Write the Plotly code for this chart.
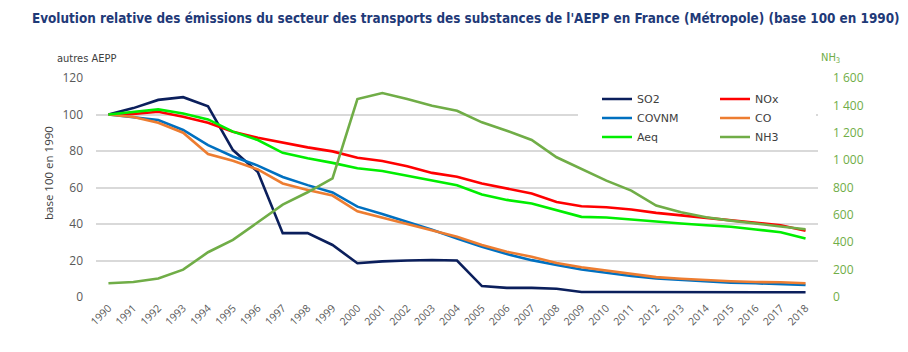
import plotly.graph_objects as go

years = [str(y) for y in range(1990, 2019)]

so2 = [100, 103.5, 108, 109.5, 104.5, 80.5, 68.5, 35, 35, 28.5, 18.5, 19.5,
       20, 20.3, 20, 6, 5, 5, 4.5, 2.7, 2.7, 2.7, 2.7, 2.7, 2.7, 2.7, 2.7, 2.7, 2.6]
nox = [100, 100.3, 101.5, 98.8, 95.5, 90.5, 87.3, 84.5, 82, 79.8, 76.3, 74.5,
       71.7, 68, 65.9, 62.2, 59.4, 56.7, 52.1, 49.7, 49.2, 47.9, 46.1, 44.8, 43.3, 42, 40.6, 39.3, 36.3]
covnm = [100, 98.4, 97, 91.5, 83.2, 77, 72, 65.8, 61.3, 57.3, 49.5, 45.5,
         41.2, 36.8, 32.1, 27.5, 23.5, 20.2, 17.5, 15.1, 13.3, 11.5, 10.2, 9.3, 8.4, 7.9, 7.5, 7.1, 6.6]
co = [100, 98.6, 95.5, 90, 78.3, 74.6, 69.9, 62.2, 58.6, 55.6, 47, 43.5,
      40, 36.3, 33, 28.5, 24.8, 22.1, 18.6, 16.3, 14.5, 12.7, 10.9, 10, 9.1, 8.6, 8.2, 8.1, 7.5]
aeq = [100, 101.3, 102.8, 100.6, 97.3, 90.6, 86, 79, 76, 73.5, 70.5, 69,
       66.3, 63.6, 61.2, 56.2, 53.2, 51.2, 47.7, 43.9, 43.6, 42.4, 41.2, 40.3, 39.3, 38.5, 37, 35.5, 32]
nh3 = [100, 110, 135, 200, 327, 417, 546, 675, 765, 867, 1446, 1490,
       1446, 1398, 1361, 1276, 1215, 1147, 1021, 935, 850, 777, 668, 619, 583, 558, 534, 515, 495]

left_ticks = [0, 20, 40, 60, 80, 100, 120]
right_ticks = [0, 200, 400, 600, 800, 1000, 1200, 1400, 1600]
right_labels = ["0", "200", "400", "600", "800", "1 000", "1 200", "1 400", "1 600"]

series = [
    ("SO2", so2, "#0B1F5C", "legend", "y"),
    ("NOx", nox, "#FF0000", "legend2", "y"),
    ("COVNM", covnm, "#0070C0", "legend", "y"),
    ("CO", co, "#ED7D31", "legend2", "y"),
    ("Aeq", aeq, "#00EE00", "legend", "y"),
    ("NH3", nh3, "#70AD47", "legend2", "y2"),
]

fig = go.Figure()
for name, vals, color, leg, ax in series:
    fig.add_trace(go.Scatter(x=years, y=vals, name=name, mode="lines",
                             line=dict(color=color, width=2.6),
                             legend=leg, yaxis=ax))

L, R, T, B = 96, 90, 78, 55
W, H = 908, 352
pw, ph = W - L - R, H - T - B

def px(xp):
    return (xp - L) / pw

def py(yp):
    return (H - B - yp) / ph

tick_font = dict(family="Open Sans, Liberation Sans, sans-serif", size=12, color="#595959")
leg_font = dict(family="DejaVu Sans, Verdana, sans-serif", size=11, color="#404040")

fig.update_layout(
    width=W, height=H,
    margin=dict(l=L, r=R, t=T, b=B),
    paper_bgcolor="white", plot_bgcolor="white",
    showlegend=True,
    xaxis=dict(type="category", range=[-0.5, 28.5], tickangle=-45,
               tickfont=dict(family="Open Sans, Liberation Sans, sans-serif", size=10.5, color="#595959"),
               showgrid=False, showline=False, ticks="", zeroline=False, ticklabelstandoff=2),
    yaxis=dict(range=[0, 120], tickvals=left_ticks, showgrid=True, gridcolor="#D9D9D9",
               gridwidth=1.5, zeroline=False, ticks="", tickfont=tick_font,
               ticklabelstandoff=12),
    yaxis2=dict(range=[0, 1600], overlaying="y", side="right", tickvals=right_ticks,
                ticktext=right_labels, showgrid=False, zeroline=False, ticks="",
                tickfont=dict(family="Open Sans, Liberation Sans, sans-serif", size=12, color="#70AD47"),
                ticklabelstandoff=14),
    legend=dict(x=px(597), y=py(84.5), xanchor="left", yanchor="top", bgcolor="rgba(0,0,0,0)",
                font=leg_font, tracegroupgap=0, itemwidth=30),
    legend2=dict(x=px(715), y=py(84.5), xanchor="left", yanchor="top", bgcolor="rgba(0,0,0,0)",
                 font=leg_font, tracegroupgap=0, itemwidth=30),
    shapes=[dict(type="rect", xref="paper", yref="paper", x0=px(578), x1=px(816),
                 y0=py(148), y1=py(81), fillcolor="white", line=dict(width=0), layer="above")],
    annotations=[
        dict(text="<b>Evolution relative des émissions du secteur des transports des substances de l'AEPP en France (Métropole) (base 100 en 1990)</b>",
             xref="paper", yref="paper", x=px(466), y=py(18), xanchor="center", yanchor="middle",
             showarrow=False, font=dict(family="DejaVu Sans Condensed, DejaVu Sans, sans-serif", size=13.4, color="#1F3A78")),
        dict(text="autres AEPP", xref="paper", yref="paper", x=px(86), y=py(58),
             xanchor="center", yanchor="middle", showarrow=False,
             font=dict(family="DejaVu Sans Condensed, DejaVu Sans, sans-serif", size=11, color="#404040")),
        dict(text="NH<sub>3</sub>", xref="paper", yref="paper", x=px(830), y=py(58),
             xanchor="center", yanchor="middle", showarrow=False,
             font=dict(family="DejaVu Sans Condensed, DejaVu Sans, sans-serif", size=11, color="#70AD47")),
        dict(text="base 100 en 1990", xref="paper", yref="paper", x=px(48), y=py(173),
             xanchor="center", yanchor="middle", showarrow=False, textangle=-90,
             font=dict(family="Open Sans, Liberation Sans, sans-serif", size=11.5, color="#404040")),
    ],
)

fig.write_html("out.html")
